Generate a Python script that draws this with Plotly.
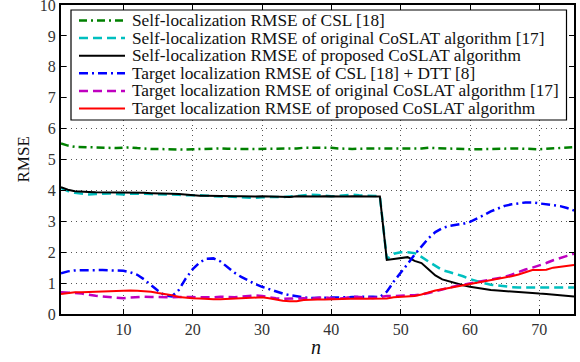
import plotly.graph_objects as go

n = list(range(1, 76))

self_csl = [5.52, 5.45, 5.41, 5.40, 5.39, 5.38, 5.37, 5.37, 5.37, 5.38,
            5.39, 5.37, 5.35, 5.34, 5.34, 5.33, 5.32, 5.31, 5.32, 5.33,
            5.34, 5.35, 5.35, 5.36, 5.35, 5.34, 5.34, 5.34, 5.34, 5.34,
            5.34, 5.34, 5.34, 5.35, 5.36, 5.38, 5.38, 5.39, 5.39, 5.38,
            5.36, 5.34, 5.34, 5.35, 5.36, 5.36, 5.36, 5.36, 5.36, 5.35,
            5.34, 5.35, 5.36, 5.38, 5.37, 5.35, 5.34, 5.34, 5.34, 5.33,
            5.33, 5.33, 5.34, 5.34, 5.35, 5.36, 5.36, 5.35, 5.34, 5.33,
            5.34, 5.36, 5.38, 5.39, 5.40]

self_orig = [4.08, 3.98, 3.92, 3.89, 3.87, 3.88, 3.89, 3.90, 3.88, 3.87,
             3.89, 3.90, 3.89, 3.88, 3.88, 3.87, 3.86, 3.86, 3.84, 3.85,
             3.84, 3.83, 3.81, 3.80, 3.80, 3.79, 3.77, 3.78, 3.76, 3.78,
             3.79, 3.79, 3.78, 3.80, 3.82, 3.85, 3.86, 3.85, 3.83, 3.81,
             3.82, 3.85, 3.86, 3.84, 3.83, 3.82, 3.81, 1.78, 1.95, 2.00,
             2.00, 1.97, 1.85, 1.70, 1.55, 1.42, 1.36, 1.30, 1.22, 1.13,
             1.06, 1.00, 0.95, 0.92, 0.89, 0.87, 0.86, 0.86, 0.86, 0.86,
             0.86, 0.86, 0.86, 0.86, 0.86]

self_prop = [4.10, 4.02, 3.97, 3.95, 3.95, 3.94, 3.94, 3.93, 3.93, 3.93,
             3.93, 3.92, 3.92, 3.91, 3.91, 3.90, 3.89, 3.88, 3.86, 3.84,
             3.83, 3.83, 3.82, 3.82, 3.82, 3.81, 3.81, 3.80, 3.80, 3.81,
             3.80, 3.80, 3.80, 3.79, 3.81, 3.80, 3.79, 3.80, 3.81, 3.80,
             3.81, 3.80, 3.81, 3.80, 3.80, 3.80, 3.80, 1.75, 1.78, 1.80,
             1.84, 1.72, 1.65, 1.45, 1.25, 1.12, 1.05, 0.99, 0.93, 0.88,
             0.84, 0.81, 0.78, 0.76, 0.74, 0.72, 0.70, 0.68, 0.67, 0.66,
             0.65, 0.63, 0.61, 0.59, 0.57]

tgt_csl = [1.32, 1.38, 1.41, 1.42, 1.42, 1.42, 1.42, 1.41, 1.41, 1.40,
           1.35, 1.27, 1.12, 0.93, 0.75, 0.60, 0.57, 0.78, 1.15, 1.45,
           1.67, 1.79, 1.80, 1.70, 1.52, 1.34, 1.20, 1.08, 0.97, 0.88,
           0.80, 0.73, 0.66, 0.61, 0.57, 0.54, 0.52, 0.52, 0.52, 0.52,
           0.53, 0.54, 0.55, 0.56, 0.57, 0.56, 0.55, 0.72, 1.05, 1.32,
           1.62, 1.92, 2.20, 2.45, 2.65, 2.78, 2.85, 2.88, 2.92, 2.98,
           3.08, 3.20, 3.32, 3.42, 3.50, 3.55, 3.59, 3.61, 3.61, 3.58,
           3.55, 3.52, 3.49, 3.43, 3.35]

tgt_orig = [0.70, 0.70, 0.68, 0.66, 0.62, 0.59, 0.57, 0.55, 0.52, 0.51,
            0.53, 0.55, 0.56, 0.55, 0.54, 0.54, 0.54, 0.55, 0.56, 0.55,
            0.54, 0.53, 0.54, 0.56, 0.55, 0.54, 0.56, 0.58, 0.60, 0.58,
            0.54, 0.51, 0.49, 0.50, 0.52, 0.51, 0.50, 0.52, 0.54, 0.51,
            0.50, 0.52, 0.56, 0.55, 0.53, 0.52, 0.55, 0.58, 0.58, 0.58,
            0.60, 0.61, 0.63, 0.68, 0.74, 0.80, 0.86, 0.91, 0.95, 0.99,
            1.03, 1.07, 1.10, 1.15, 1.20, 1.27, 1.36, 1.44, 1.50, 1.57,
            1.65, 1.74, 1.82, 1.88, 1.95]

tgt_prop = [0.65, 0.68, 0.70, 0.70, 0.71, 0.72, 0.72, 0.73, 0.74, 0.75,
            0.76, 0.75, 0.74, 0.72, 0.68, 0.65, 0.61, 0.55, 0.52, 0.51,
            0.50, 0.48, 0.48, 0.48, 0.49, 0.50, 0.52, 0.53, 0.54, 0.54,
            0.51, 0.46, 0.43, 0.41, 0.41, 0.45, 0.47, 0.47, 0.47, 0.48,
            0.49, 0.50, 0.51, 0.50, 0.49, 0.49, 0.48, 0.50, 0.54, 0.56,
            0.57, 0.58, 0.63, 0.70, 0.76, 0.80, 0.84, 0.88, 0.93, 0.98,
            1.02, 1.05, 1.08, 1.12, 1.17, 1.22, 1.28, 1.36, 1.42, 1.42,
            1.43, 1.50, 1.53, 1.57, 1.59]

names = [
    "Self-localization RMSE of CSL [18]",
    "Self-localization RMSE of original CoSLAT algorithm [17]",
    "Self-localization RMSE of proposed CoSLAT algorithm",
    "Target localization RMSE of CSL [18] + DTT [8]",
    "Target localization RMSE of original CoSLAT algorithm [17]",
    "Target localization RMSE of proposed CoSLAT algorithm",
]
series = [self_csl, self_orig, self_prop, tgt_csl, tgt_orig, tgt_prop]
colors = ["#008000", "#00BFBF", "#000000", "#0000FF", "#BF00BF", "#FF0000"]
dashes = ["8px,4px,2px,4px", "9px,5px", "solid", "9px,4px,2px,4px", "9px,5px", "solid"]
widths = [2.5, 2.5, 2, 2.5, 2.5, 2]

W, H = 580, 362
L, R, T, B = 61, 6, 5, 48
PW, PH = W - L - R, H - T - B


def px(x):
    return (x - L) / PW


def py(y):
    return (H - B - y) / PH


font = "Liberation Serif, Times New Roman, serif"

fig = go.Figure()
for name, y, c, d, w in zip(names, series, colors, dashes, widths):
    fig.add_trace(go.Scatter(x=n, y=y, mode="lines", name=name, showlegend=False,
                             line=dict(color=c, dash=d, width=w)))

# custom legend (box, samples, labels)
shapes = [dict(type="rect", xref="paper", yref="paper", layer="above",
               x0=px(71), x1=px(566.5), y0=py(120), y1=py(10),
               fillcolor="white", line=dict(color="black", width=1.2))]
annotations = []
row0, step = 20.5, 17.6
for i, (name, c, d, w) in enumerate(zip(names, colors, dashes, widths)):
    yy = py(row0 + i * step)
    shapes.append(dict(type="line", xref="paper", yref="paper", layer="above",
                       x0=px(79), x1=px(125), y0=yy, y1=yy,
                       line=dict(color=c, dash=d, width=w)))
    annotations.append(dict(text=name, xref="paper", yref="paper", x=px(129.5), y=yy,
                            xanchor="left", yanchor="middle", showarrow=False,
                            font=dict(family=font, size=17.3, color="#111111")))

annotations.append(dict(text="RMSE", xref="paper", yref="paper", x=px(23), y=py(159.5),
                        xanchor="center", yanchor="middle", textangle=-90, showarrow=False,
                        font=dict(family=font, size=17, color="#111111")))
annotations.append(dict(text="<i>n</i>", xref="paper", yref="paper", x=px(316), y=py(347),
                        xanchor="center", yanchor="middle", showarrow=False,
                        font=dict(family=font, size=20, color="#111111")))

fig.update_layout(
    width=W, height=H,
    margin=dict(l=L, r=R, t=T, b=B, autoexpand=False),
    plot_bgcolor="white", paper_bgcolor="white",
    font=dict(family=font, size=16, color="#333333"),
    showlegend=False,
    shapes=shapes, annotations=annotations,
    xaxis=dict(range=[1, 75], tick0=10, dtick=10, showgrid=True, automargin=False,
               gridcolor="#555555", griddash="1px,4px", gridwidth=1,
               ticklabeloverflow="allow",
               zeroline=False, showline=True, linecolor="black", linewidth=2,
               mirror="ticks", ticks="inside", ticklen=5, tickcolor="black"),
    yaxis=dict(range=[0, 10], dtick=1, showgrid=True, automargin=False,
               gridcolor="#555555", griddash="1px,4px", gridwidth=1,
               ticklabeloverflow="allow",
               zeroline=False, showline=True, linecolor="black", linewidth=2,
               mirror="ticks", ticks="inside", ticklen=5, tickcolor="black"),
)

fig.write_html("out.html", config={"displayModeBar": False},
               post_script="document.body.style.margin='0px';")
